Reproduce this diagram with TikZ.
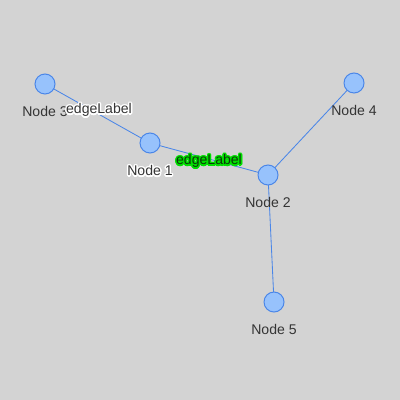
\documentclass[tikz,border=0pt]{standalone}
\usepackage{fontspec}
\setmainfont{Liberation Sans}
\usepackage[copies]{contour}
\usetikzlibrary{positioning}
\definecolor{bgGray}{HTML}{D3D3D3}
\definecolor{edgeBlue}{HTML}{4A86E8}
\definecolor{nodeFill}{HTML}{97C2FC}
\definecolor{labelGray}{HTML}{343434}
\definecolor{haloGreen}{HTML}{00E000}
\definecolor{textGreen}{HTML}{0A3A0A}
\contourlength{1pt}
\tikzset{%
  graph node/.style={circle, draw=edgeBlue, fill=nodeFill, line width=0.7pt,
    minimum size=0.5cm, inner sep=0pt},
  node label/.style={text=labelGray, inner sep=0pt, font=\fontsize{10}{12}\selectfont},
  graph edge/.style={draw=edgeBlue, line width=0.6pt},
  edge label/.style={inner sep=0pt, font=\fontsize{10}{12}\selectfont},
}
\begin{document}
\begin{tikzpicture}[x=0.025cm,y=-0.025cm]
  \fill[bgGray] (0,0) rectangle (400,400);
  \useasboundingbox (0,0) rectangle (400,400);
  % graph nodes
  \foreach \name/\px/\py in {n1/150/143, n2/268/175, n3/45/84, n4/354/83, n5/274/302} {
    \coordinate (\name) at (\px,\py);
  }
  % edges first, circles drawn over them
  \draw[graph edge] (n3) -- (n1);
  \draw[graph edge] (n1) -- (n2);
  \draw[graph edge] (n2) -- (n4);
  \draw[graph edge] (n2) -- (n5);
  \foreach \name in {n1,n2,n3,n4,n5} {
    \node[graph node] (c\name) at (\name) {};
  }
  % node labels
  \node[node label, below=0.3cm of cn3] (t3) {Node 3};
  \node[node label, below=0.3cm of cn1] (t1) {\contour{white}{Node 1}};
  \node[node label, below=0.3cm of cn2] (t2) {Node 2};
  \node[node label, below=0.3cm of cn4] (t4) {Node 4};
  \node[node label, below=0.3cm of cn5] (t5) {Node 5};
  % edge labels
  \node[edge label, text=labelGray] (e31) at (99,111) {\contour{white}{edgeLabel}};
  \node[edge label, text=textGreen] (e12) at (209,162) {\contour{haloGreen}{edgeLabel}};
\end{tikzpicture}
\end{document}
